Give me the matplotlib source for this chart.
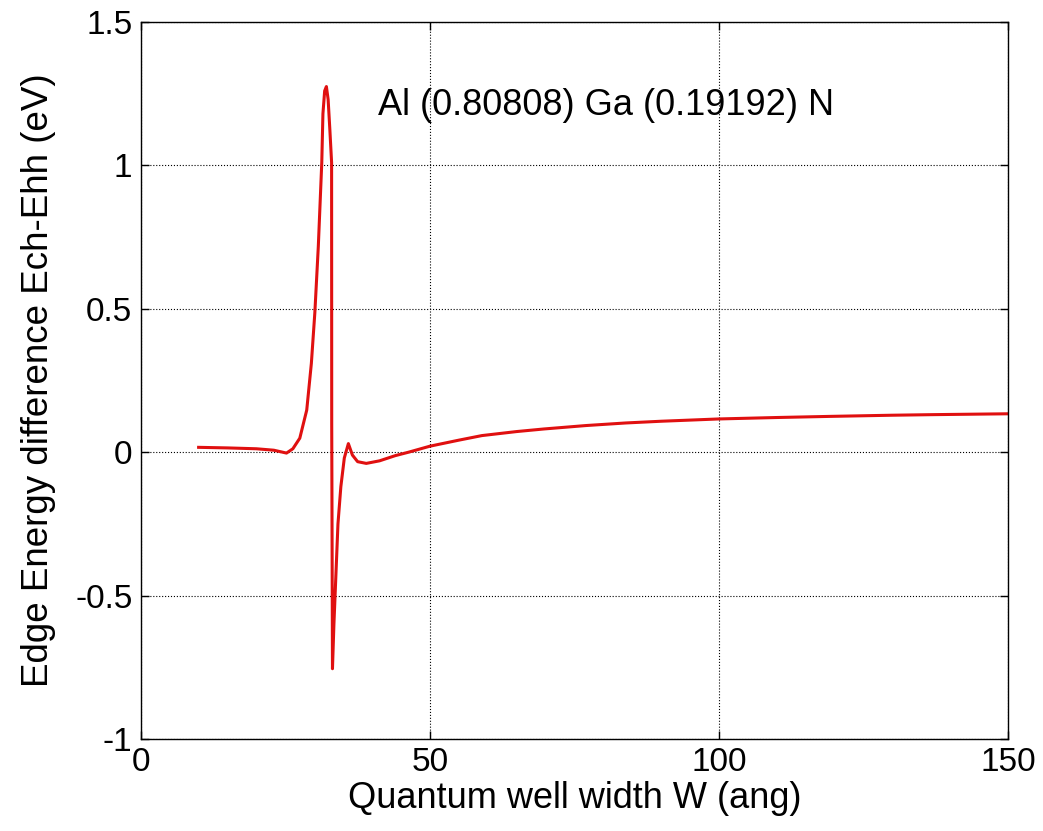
import matplotlib
matplotlib.use("Agg")
import matplotlib.pyplot as plt

plt.rcParams['font.family'] = ['Liberation Sans', 'DejaVu Sans']

# curve
width = [10, 15, 20, 23, 25.2, 26.3, 27.5, 28.7, 29.5, 30.1, 30.7, 31.3, 31.5,
         31.8, 32.1, 32.4, 32.7, 33.0, 33.02, 33.15, 33.4, 33.7, 34.1, 34.6,
         35.2, 35.9, 36.6, 37.5, 39.0, 41.3, 44, 46.3, 50, 55, 59, 65, 69.7,
         77, 83.9, 90, 100, 110, 119.4, 130, 137, 150]
de = [0.017, 0.015, 0.012, 0.007, -0.003, 0.012, 0.049, 0.147, 0.31, 0.486,
      0.717, 1.01, 1.18, 1.26, 1.275, 1.23, 1.124, 1.01, 0.10, -0.755, -0.6,
      -0.45, -0.25, -0.12, -0.02, 0.03, -0.01, -0.033, -0.039, -0.030, -0.012,
      0.0, 0.021, 0.042, 0.058, 0.072, 0.081, 0.093, 0.102, 0.108, 0.116,
      0.121, 0.125, 0.129, 0.131, 0.134]

xticks = [0, 50, 100, 150]
yticks = [-1, -0.5, 0, 0.5, 1, 1.5]
ylabels = ['-1', '-0.5', '0', '0.5', '1', '1.5']

fig = plt.figure(figsize=(10.43, 8.31), dpi=100)
ax = fig.add_axes([0.135, 0.1107, 0.8315, 0.8628])

ax.plot(width, de, color='#e01010', lw=2.2)

ax.set_xlim(0, 150)
ax.set_ylim(-1, 1.5)
ax.set_xticks(xticks)
ax.set_xticklabels([str(t) for t in xticks])
ax.set_yticks(yticks)
ax.set_yticklabels(ylabels)
ax.tick_params(direction='in', length=6, width=1, top=True, right=True,
               labelsize=24, pad=6)
ax.grid(True, color='black', linestyle=':', linewidth=0.8)
for s in ax.spines.values():
    s.set_linewidth(1)

ax.set_xlabel('Quantum well width W (ang)', fontsize=26, labelpad=2)
ax.set_ylabel('Edge Energy difference Ech-Ehh (eV)', fontsize=26.5, labelpad=14)
ax.text(41, 1.21, 'Al (0.80808) Ga (0.19192) N', fontsize=26, va='center')

fig.savefig('out.png', dpi=100)
